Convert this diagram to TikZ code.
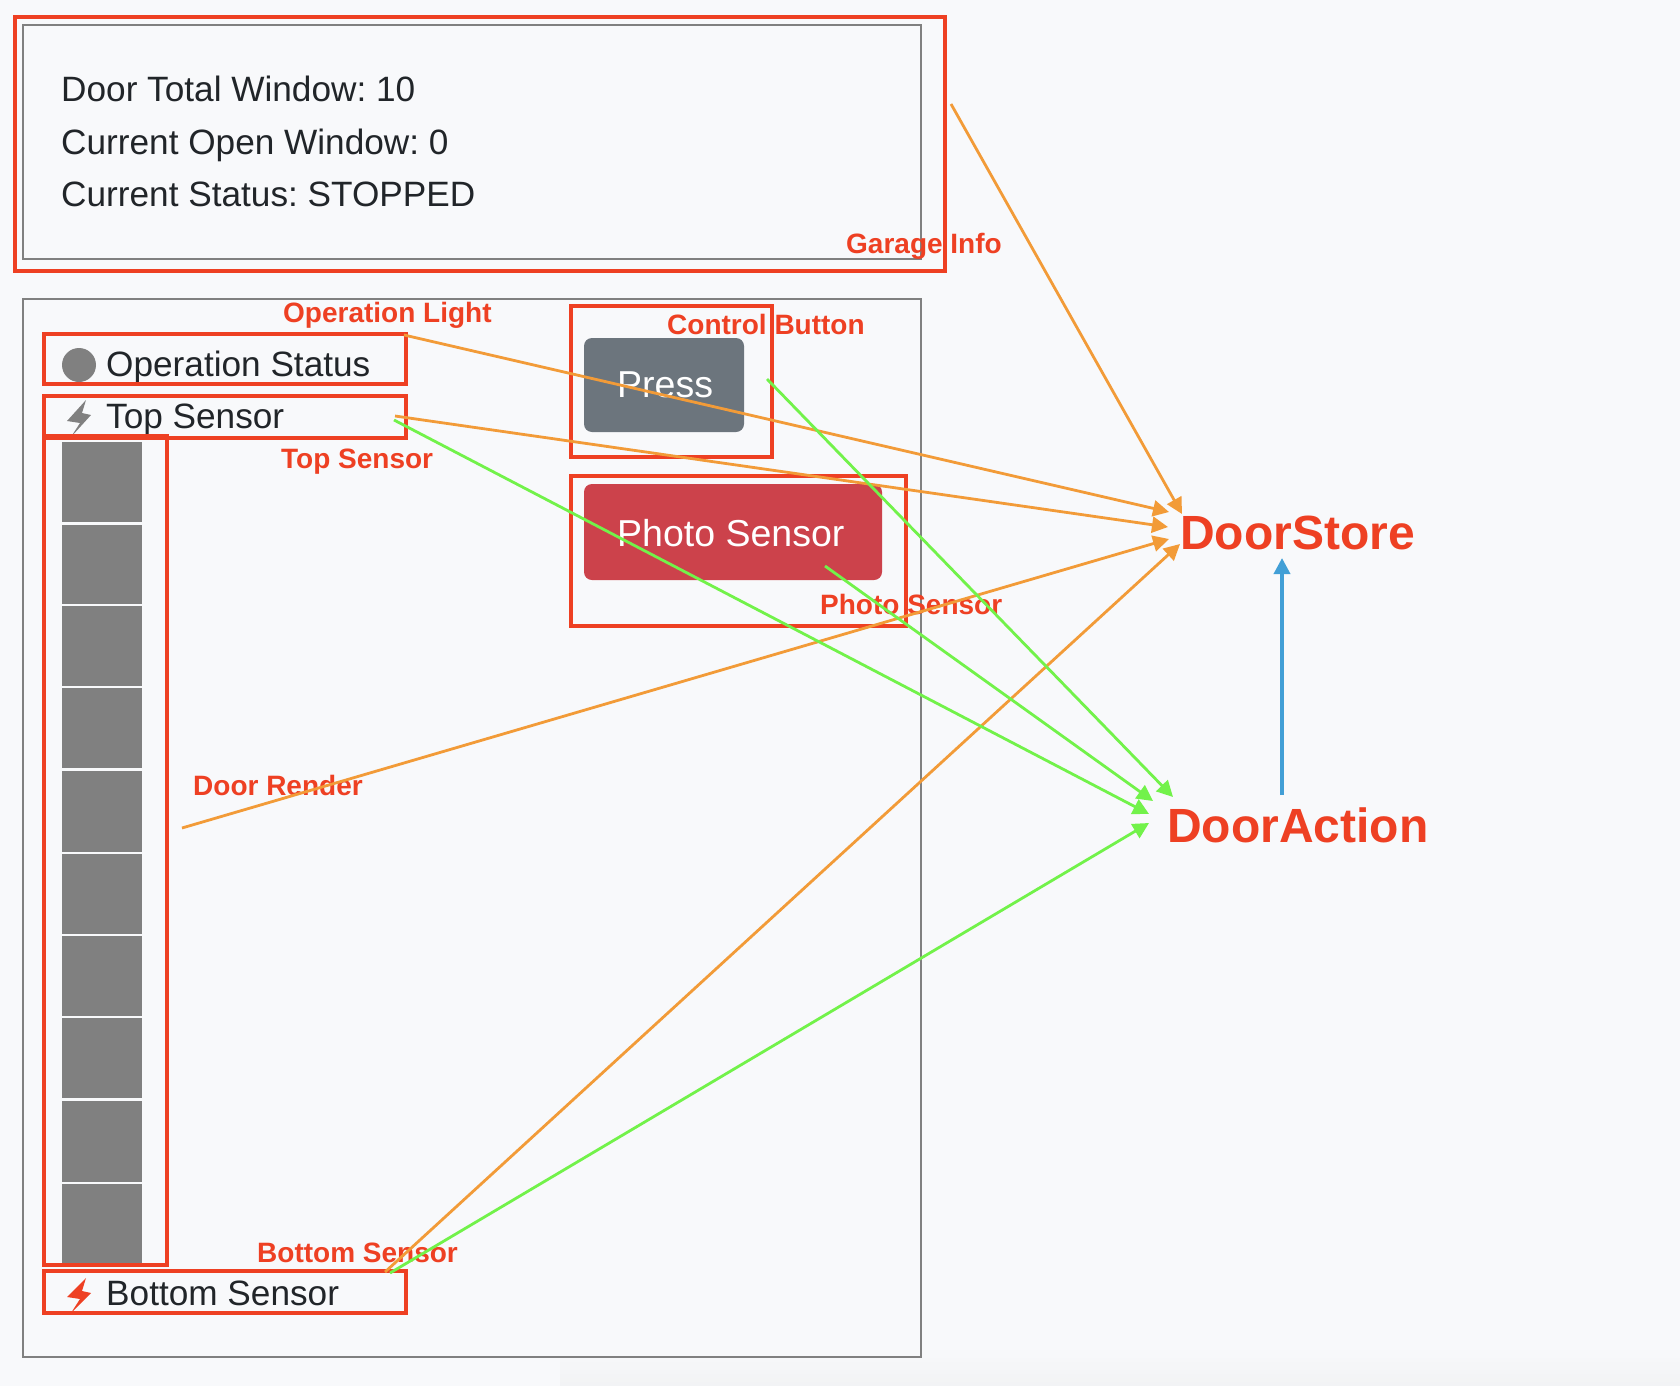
\documentclass[tikz,border=0pt]{standalone}
\usepackage{fontspec}
\setmainfont{Liberation Sans}
\newfontfamily\lblfont{Liberation Sans}
\usetikzlibrary{arrows.meta}
\definecolor{bgc}{HTML}{F8F9FB}
\definecolor{bgd}{HTML}{F1F2F4}
\definecolor{redc}{HTML}{EE4023}
\definecolor{orangec}{HTML}{F29B38}
\definecolor{greenc}{HTML}{72F24A}
\definecolor{bluec}{HTML}{429FD6}
\definecolor{inkc}{HTML}{212529}
\definecolor{framec}{HTML}{808080}
\definecolor{pressc}{HTML}{6C757D}
\definecolor{photoc}{HTML}{CC424B}
\tikzset{
  x=1pt,y=-1pt,
  frame/.style={draw=framec,line width=1.6pt},
  redbox/.style={draw=redc,line width=3.4pt},
  body/.style={anchor=base west,inner sep=0pt,text=inkc,font=\fontsize{35.2}{35.2}\selectfont\frenchspacing},
  btn/.style={anchor=base west,inner sep=0pt,text=white,font=\fontsize{37.5}{37.5}\selectfont\frenchspacing},
  lbl/.style={anchor=base west,inner sep=0pt,text=redc,font=\lblfont\bfseries\fontsize{28}{28}\selectfont},
  big/.style={anchor=base west,inner sep=0pt,text=redc,font=\lblfont\bfseries\fontsize{48}{48}\selectfont},
  conn/.style={line width=2.8pt,-{Triangle[length=16pt,width=16pt]}},
  storeline/.style={conn,draw=orangec,color=orangec},
  actionline/.style={conn,draw=greenc,color=greenc},
  linkline/.style={conn,line width=3.6pt,draw=bluec,color=bluec},
}
\begin{document}
\begin{tikzpicture}
\useasboundingbox (0,0) rectangle (1680,1386);
\fill[bgc] (0,0) rectangle (1680,1386);
\foreach \r in {0,...,9}
  \fill[bgd!\the\numexpr\r*10\relax!bgc] (560,1346+\r*4) rectangle (1680,1386);
% frames
\draw[frame] (23,25) rectangle (921,259);
\draw[frame] (23,299) rectangle (921,1357);
% info text
\node[body] (info1) at (61,102) {Door Total Window: 10};
\node[body] (info2) at (61,154) {Current Open Window: 0};
\node[body] (info3) at (61,206) {Current Status: STOPPED};
% door panels
\foreach \t/\b in {442/522,525/604,606/686,688/768,771/852,854/934,936/1016,1018/1098,1101/1182,1184/1264}
  \fill[framec] (62,\t) rectangle (142,\b);
% status light
\begin{scope}
\clip (40,336) rectangle (410,382);
\fill[framec] (79,365) circle (17);
\end{scope}
\node[body] (opstatus) at (106,376) {Operation Status};
\fill[framec] (86,400) -- (67,421) -- (80,423) -- (71,437) -- (91,415) -- (82,413) -- cycle;
\node[body] (topsensor) at (106,428) {Top Sensor};
\fill[redc] (86,1278) -- (67,1297) -- (80,1299) -- (71,1313) -- (91,1293) -- (82,1291) -- cycle;
\node[body] (botsensor) at (106,1305) {Bottom Sensor};
% buttons
\fill[pressc,rounded corners=8pt] (584,338) rectangle (744,432);
\node[btn] (press) at (617,397) {Press};
\fill[photoc,rounded corners=8pt] (584,484) rectangle (882,580);
\node[btn] (photo) at (617,546) {Photo Sensor};
% red boxes
\draw[redbox] (15,17) rectangle (945,271);
\draw[redbox] (44,334) rectangle (406,384);
\draw[redbox] (44,396) rectangle (406,438);
\draw[redbox] (44,436) rectangle (167,1265);
\draw[redbox] (44,1271) rectangle (406,1313);
\draw[redbox] (571,306) rectangle (772,457);
\draw[redbox] (571,476) rectangle (906,626);
% labels
\node[lbl] (lgarage) at (846,253) {Garage Info};
\node[lbl] (loplight) at (283,322) {Operation Light};
\node[lbl] (lcontrol) at (667,334) {Control Button};
\node[lbl] (ltop) at (281,468) {Top Sensor};
\node[lbl] (lphoto) at (820,614) {Photo Sensor};
\node[lbl] (ldoor) at (193,795) {Door Render};
\node[lbl] (lbottom) at (257,1262) {Bottom Sensor};
\node[big] (store) at (1180,549) {DoorStore};
\node[big] (action) at (1167,842) {DoorAction};
% connector ends
\coordinate (gs) at (951,104);
\coordinate (gt) at (1182,514);
\coordinate (os) at (404,335);
\coordinate (ot) at (1169,512);
\coordinate (ts) at (395,416);
\coordinate (tt) at (1168,527);
\coordinate (ds) at (182,828);
\coordinate (dt) at (1169,539);
\coordinate (bs) at (385,1272);
\coordinate (bt) at (1180,544);
\coordinate (ps) at (767,379);
\coordinate (pt) at (1173,797);
\coordinate (hs) at (825,566);
\coordinate (ht) at (1153,801);
\coordinate (us) at (394,420);
\coordinate (ut) at (1149,814);
\coordinate (vs) at (390,1273);
\coordinate (vt) at (1149,823);
\coordinate (as) at (1282,795);
\coordinate (at) at (1282,558);
\draw[storeline] (gs) -- (gt);
\draw[storeline] (os) -- (ot);
\draw[storeline] (ts) -- (tt);
\draw[storeline] (ds) -- (dt);
\draw[storeline] (bs) -- (bt);
\draw[actionline] (ps) -- (pt);
\draw[actionline] (hs) -- (ht);
\draw[actionline] (us) -- (ut);
\draw[actionline] (vs) -- (vt);
\draw[linkline] (as) -- (at);
\end{tikzpicture}
\end{document}
